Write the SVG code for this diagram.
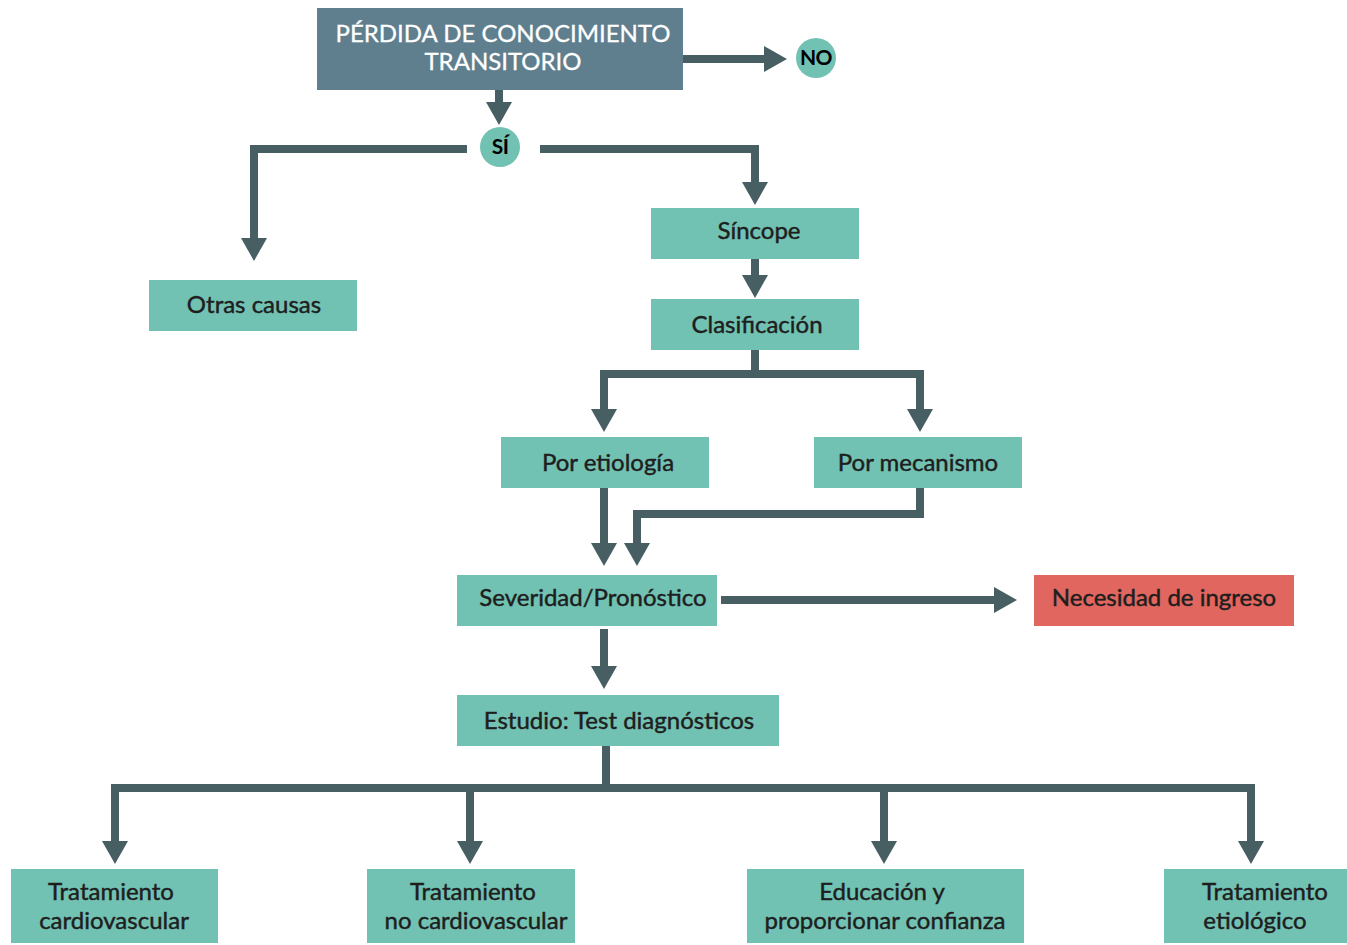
<svg xmlns="http://www.w3.org/2000/svg" width="1347" height="945" viewBox="0 0 1347 945">
<style>
  .box { fill: #72c2b3; }
  .top { fill: #5f7f8f; }
  .red { fill: #e0665f; }
  .circ { fill: #72c2b3; }
  text { font-family: Lato, "Noto Sans", "Liberation Sans", sans-serif; font-size: 24px; font-weight: 400; fill: #1e1e1e; stroke: #1e1e1e; stroke-width: 0.45; text-anchor: middle; }
  .w { fill: #ffffff; stroke: #ffffff; stroke-width: 0.3; }
  .c { font-weight: 700; font-size: 21px; fill: #000; stroke: none; letter-spacing: -0.5px; }
  .conn path { fill: none; stroke: #475f62; stroke-width: 8; stroke-linejoin: miter; stroke-linecap: butt; }
</style>
<defs>
  <marker id="ah" markerUnits="userSpaceOnUse" markerWidth="24" markerHeight="26" refX="0" refY="13" orient="auto" overflow="visible">
    <path d="M0,0 L23,13 L0,26 Z" fill="#475f62"/>
  </marker>
</defs>
<rect width="1347" height="945" fill="#ffffff"/>
<g class="conn">
  <path d="M683,59 H764" marker-end="url(#ah)"/>
  <path d="M499,90 V102" marker-end="url(#ah)"/>
  <path d="M467,149 H254 V238" marker-end="url(#ah)"/>
  <path d="M540,149 H755 V182" marker-end="url(#ah)"/>
  <path d="M755,259 V275" marker-end="url(#ah)"/>
  <path d="M755,350 V374"/>
  <path d="M604,374 V409" marker-end="url(#ah)"/>
  <path d="M600,374 H920 V409" marker-end="url(#ah)"/>
  <path d="M604,488 V543" marker-end="url(#ah)"/>
  <path d="M920,488 V514 H637 V543" marker-end="url(#ah)"/>
  <path d="M721,600 H994" marker-end="url(#ah)"/>
  <path d="M604,629 V666" marker-end="url(#ah)"/>
  <path d="M606,746 V788"/>
  <path d="M1251,841 V788 H115 V841" marker-end="url(#ah)"/>
  <path d="M1251,788 V841" marker-end="url(#ah)"/>
  <path d="M470,788 V841" marker-end="url(#ah)"/>
  <path d="M884,788 V841" marker-end="url(#ah)"/>
</g>
<g id="perdida">
  <rect class="top" x="317" y="8" width="366" height="82"/>
  <text class="w" x="503" y="42">PÉRDIDA DE CONOCIMIENTO</text>
  <text class="w" x="503" y="70">TRANSITORIO</text>
</g>
<g id="no">
  <circle class="circ" cx="816" cy="58" r="20"/>
  <text class="c" x="816" y="65">NO</text>
</g>
<g id="si">
  <circle class="circ" cx="500" cy="147" r="20"/>
  <text class="c" x="500" y="154">SÍ</text>
</g>
<g id="otras">
  <rect class="box" x="149" y="280" width="208" height="51"/>
  <text x="254" y="313">Otras causas</text>
</g>
<g id="sincope">
  <rect class="box" x="651" y="208" width="208" height="51"/>
  <text x="759" y="239">Síncope</text>
</g>
<g id="clasificacion">
  <rect class="box" x="651" y="299" width="208" height="51"/>
  <text x="757" y="333">Clasificación</text>
</g>
<g id="etiologia">
  <rect class="box" x="501" y="437" width="208" height="51"/>
  <text x="608" y="471">Por etiología</text>
</g>
<g id="mecanismo">
  <rect class="box" x="814" y="437" width="208" height="51"/>
  <text x="918" y="471">Por mecanismo</text>
</g>
<g id="severidad">
  <rect class="box" x="457" y="575" width="260" height="51"/>
  <text x="593" y="606">Severidad/Pronóstico</text>
</g>
<g id="ingreso">
  <rect class="red" x="1034" y="575" width="260" height="51"/>
  <text x="1164" y="606">Necesidad de ingreso</text>
</g>
<g id="estudio">
  <rect class="box" x="457" y="695" width="322" height="51"/>
  <text x="619" y="729">Estudio: Test diagnósticos</text>
</g>
<g id="trat-cv">
  <rect class="box" x="11" y="869" width="207" height="74"/>
  <text x="111" y="900">Tratamiento</text>
  <text x="114" y="929">cardiovascular</text>
</g>
<g id="trat-nocv">
  <rect class="box" x="367" y="869" width="208" height="74"/>
  <text x="473" y="900">Tratamiento</text>
  <text x="476" y="929">no cardiovascular</text>
</g>
<g id="educacion">
  <rect class="box" x="747" y="869" width="277" height="74"/>
  <text x="882" y="900">Educación y</text>
  <text x="885" y="929">proporcionar confianza</text>
</g>
<g id="trat-etio">
  <rect class="box" x="1164" y="869" width="183" height="74"/>
  <text x="1265" y="900">Tratamiento</text>
  <text x="1255" y="929">etiológico</text>
</g>
</svg>
